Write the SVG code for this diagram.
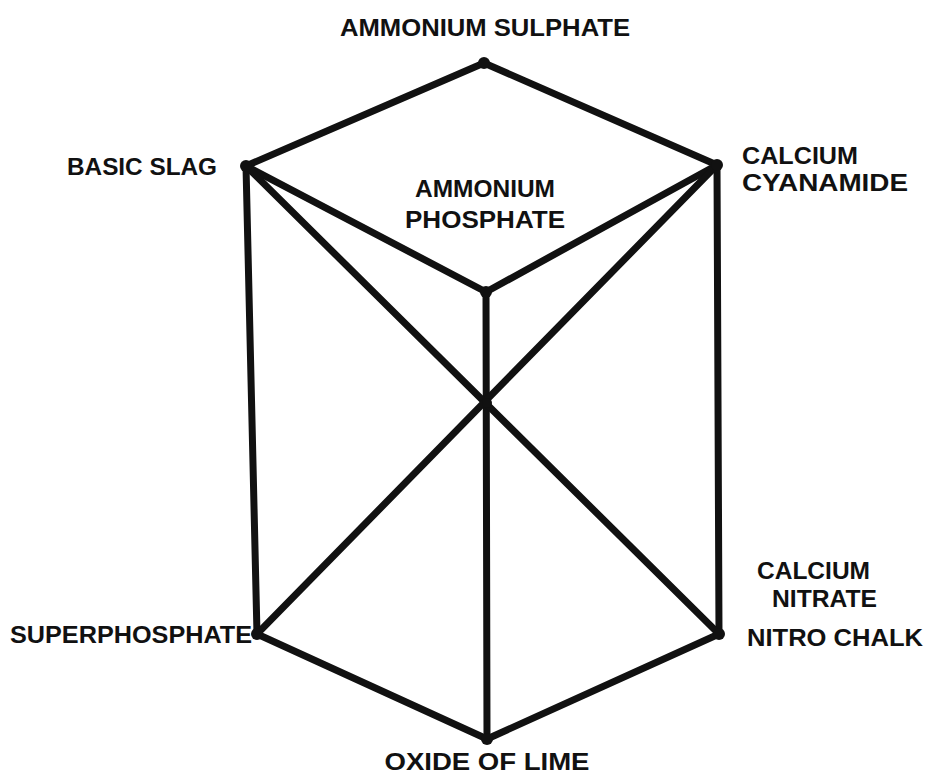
<svg xmlns="http://www.w3.org/2000/svg" width="932" height="778" viewBox="0 0 932 778">
<style>
.e{stroke:#111;stroke-width:7;stroke-linecap:round;fill:none}
.v{fill:#111}
text{font-family:"Liberation Sans",Arial,sans-serif;font-weight:bold;font-size:24px;fill:#111}
</style>
<rect width="932" height="778" fill="#fff"/>
<g id="connectors">
<line class="e" x1="484" y1="63" x2="246" y2="166"/>
<line class="e" x1="484" y1="63" x2="717" y2="165"/>
<line class="e" x1="246" y1="166" x2="486" y2="292"/>
<line class="e" x1="717" y1="165" x2="486" y2="292"/>
<line class="e" x1="246" y1="166" x2="257" y2="634"/>
<line class="e" x1="717" y1="165" x2="719" y2="634"/>
<line class="e" x1="486" y1="292" x2="487" y2="739"/>
<line class="e" x1="246" y1="166" x2="719" y2="634"/>
<line class="e" x1="717" y1="165" x2="257" y2="634"/>
<line class="e" x1="257" y1="634" x2="487" y2="739"/>
<line class="e" x1="719" y1="634" x2="487" y2="739"/>
</g>
<g id="ammonium-sulphate"><circle class="v" cx="484" cy="63" r="6"/><text x="485" y="36" text-anchor="middle" textLength="290" lengthAdjust="spacingAndGlyphs">AMMONIUM SULPHATE</text></g>
<g id="basic-slag"><circle class="v" cx="246" cy="166" r="6"/><text x="67" y="175" textLength="150" lengthAdjust="spacingAndGlyphs">BASIC SLAG</text></g>
<g id="calcium-cyanamide"><circle class="v" cx="717" cy="165" r="6"/><text x="742" y="164" textLength="116" lengthAdjust="spacingAndGlyphs">CALCIUM</text><text x="742" y="191" textLength="166" lengthAdjust="spacingAndGlyphs">CYANAMIDE</text></g>
<g id="ammonium-phosphate"><circle class="v" cx="486" cy="292" r="6"/><text x="485" y="197" text-anchor="middle" textLength="140" lengthAdjust="spacingAndGlyphs">AMMONIUM</text><text x="485" y="228" text-anchor="middle" textLength="160" lengthAdjust="spacingAndGlyphs">PHOSPHATE</text></g>
<g id="superphosphate"><circle class="v" cx="257" cy="634" r="6"/><text x="10" y="643" textLength="242" lengthAdjust="spacingAndGlyphs">SUPERPHOSPHATE</text></g>
<g id="calcium-nitrate"><circle class="v" cx="719" cy="634" r="6"/><text x="757" y="579" textLength="113" lengthAdjust="spacingAndGlyphs">CALCIUM</text><text x="772" y="607" textLength="105" lengthAdjust="spacingAndGlyphs">NITRATE</text><text x="747" y="646" textLength="176" lengthAdjust="spacingAndGlyphs">NITRO CHALK</text></g>
<g id="oxide-of-lime"><circle class="v" cx="487" cy="739" r="6"/><text x="487" y="770" text-anchor="middle" textLength="205" lengthAdjust="spacingAndGlyphs">OXIDE OF LIME</text></g>
<g id="crossing"><circle class="v" cx="487" cy="403" r="5"/></g>
</svg>
